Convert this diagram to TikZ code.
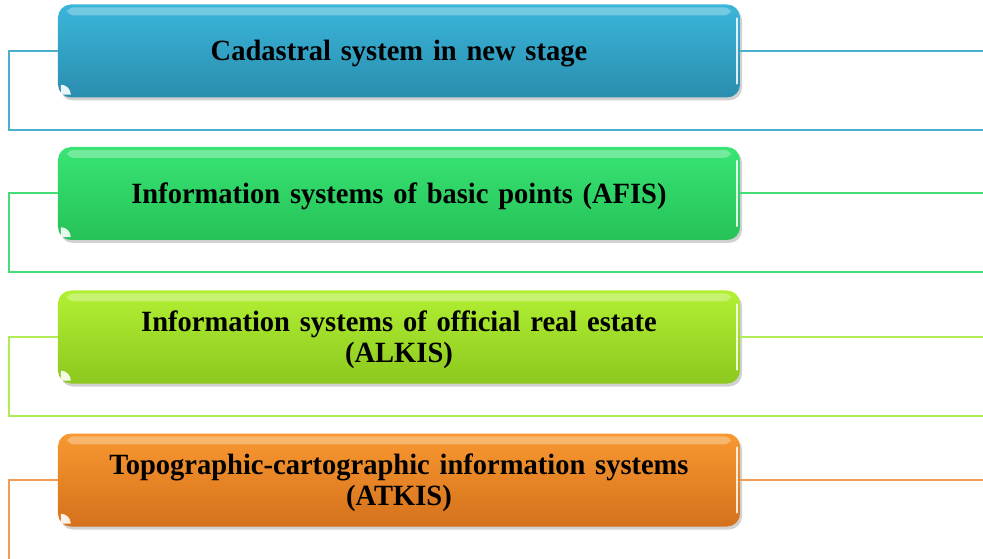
\documentclass[tikz,border=0pt]{standalone}
\usepackage{fontspec}
\setmainfont[FakeStretch=0.97, WordSpace=0.7]{Liberation Serif}
\usetikzlibrary{shadows}
\definecolor{c1t}{HTML}{3AB6DA}\definecolor{c1b}{HTML}{2A8DAE}\definecolor{c1l}{HTML}{4BB0CE}
\definecolor{c2t}{HTML}{38E474}\definecolor{c2b}{HTML}{26C257}\definecolor{c2l}{HTML}{45DD75}
\definecolor{c3t}{HTML}{B2F034}\definecolor{c3b}{HTML}{8CC81E}\definecolor{c3l}{HTML}{B0EC55}
\definecolor{c4t}{HTML}{F89830}\definecolor{c4b}{HTML}{D5711C}\definecolor{c4l}{HTML}{F59A52}
\tikzset{
  gbox/.style={rounded corners=13bp, minimum width=682bp, minimum height=93bp, inner sep=0pt,
    drop shadow={shadow xshift=2bp, shadow yshift=-3bp, opacity=.3, fill=black!60}},
  txt/.style={text width=670bp, align=center, inner sep=0pt,
    font=\bfseries\fontsize{29.5}{31}\selectfont},
  frame/.style={line width=2bp},
  gloss/.style={white, opacity=.3},
  edge/.style={white, opacity=.85, line width=1.8bp, line cap=round}
}
\newcommand{\glossy}[1]{%
  \fill[gloss, rounded corners=7bp] ([xshift=9bp,yshift=-3bp]#1.north west) rectangle ([xshift=-9bp,yshift=-11bp]#1.north east);
  \draw[edge] ([xshift=-3bp,yshift=-14bp]#1.north east) -- ([xshift=-3bp,yshift=14bp]#1.south east);
  \fill[white, opacity=.9] ([xshift=3bp,yshift=3bp]#1.south west) -- ++(10bp,0) arc[start angle=0, end angle=90, radius=10bp] -- cycle;
}
\begin{document}
\begin{tikzpicture}[x=1bp,y=-1bp]
\useasboundingbox (0,0) rectangle (983,559);
\clip (0,0) rectangle (983,559);
\coordinate (l1) at (9,130); \coordinate (r1) at (995,130);
\coordinate (l2) at (9,272); \coordinate (r2) at (995,272);
\coordinate (l3) at (9,416); \coordinate (r3) at (995,416);
\coordinate (l4) at (9,580); \coordinate (r4) at (995,580);
\path (399,51) coordinate (p1) (399,193.5) coordinate (p2) (399,337) coordinate (p3) (399,480) coordinate (p4);
% boxes
\node[gbox, top color=c1t, bottom color=c1b] (b1) at (p1) {};
\node[gbox, top color=c2t, bottom color=c2b] (b2) at (p2) {};
\node[gbox, top color=c3t, bottom color=c3b] (b3) at (p3) {};
\node[gbox, top color=c4t, bottom color=c4b] (b4) at (p4) {};
% frames
\draw[frame, c1l] (b1.west) -| (l1) -- (r1) |- (b1.east);
\draw[frame, c2l] (b2.west) -| (l2) -- (r2) |- (b2.east);
\draw[frame, c3l] (b3.west) -| (l3) -- (r3) |- (b3.east);
\draw[frame, c4l] (b4.west) -| (l4) -- (r4) |- (b4.east);
\glossy{b1}\glossy{b2}\glossy{b3}\glossy{b4}
% texts
\node[txt] (t1) at ([yshift=-2.5bp]b1.center) {Cadastral system in new stage};
\node[txt] (t2) at ([yshift=-2.5bp]b2.center) {Information systems of basic points (AFIS)};
\node[txt] (t3) at ([yshift=-3bp]b3.center) {Information systems of official real estate\\(ALKIS)};
\node[txt] (t4) at ([yshift=-3bp]b4.center) {Topographic-cartographic information systems\\(ATKIS)};
\end{tikzpicture}
\end{document}
